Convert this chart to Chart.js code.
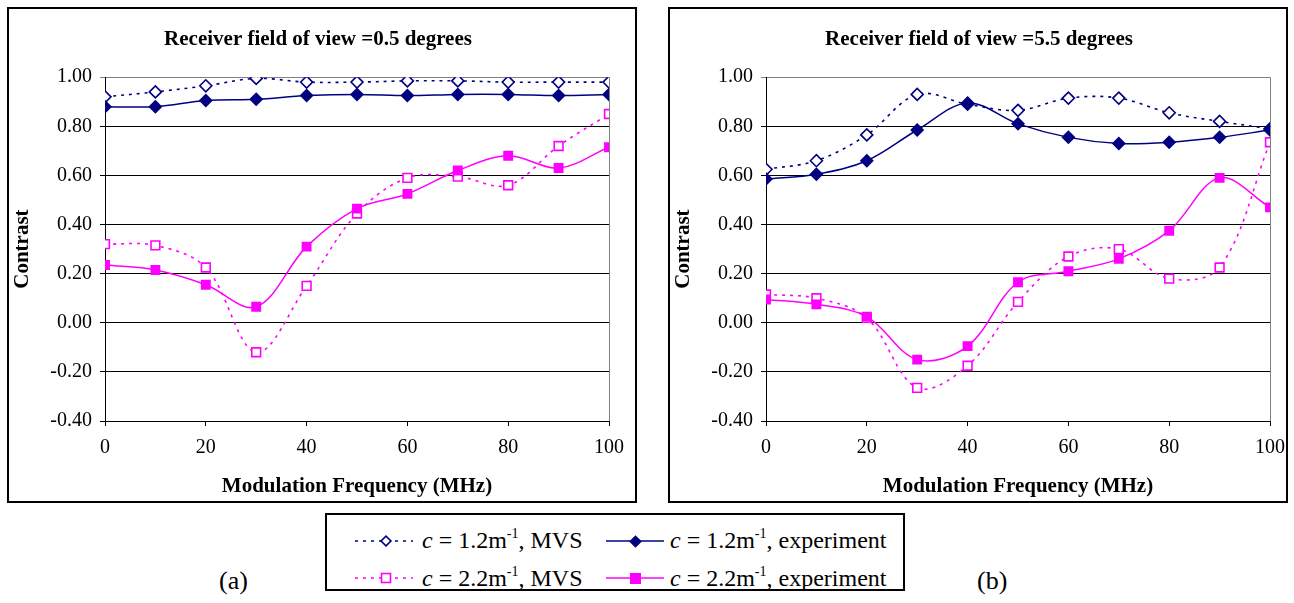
<!DOCTYPE html>
<html>
<head>
<meta charset="utf-8">
<script src="https://cdn.jsdelivr.net/npm/chart.js@4.4.1/dist/chart.umd.min.js"></script>
<style>
  body { margin: 0; background: #fff; width: 1294px; height: 603px; position: relative; overflow: hidden;
         font-family: "Liberation Serif", "Times New Roman", serif; }
  .box { position: absolute; border: 2px solid #000; box-sizing: border-box; }
  canvas.chart { position: absolute; }
  .leg { position: absolute; font-size: 24px; color: #000; white-space: nowrap; line-height: 1; }
  .leg sup { font-size: 14px; vertical-align: 10px; line-height: 0; }
  .cap { position: absolute; font-size: 26px; }
</style>
</head>
<body>
<div class="box" style="left:7px;top:7px;width:630px;height:496px;"></div>
<div class="box" style="left:668px;top:7px;width:620px;height:496px;"></div>
<canvas class="chart" id="chartA" width="630" height="496" style="left:7px;top:7px;width:630px;height:496px;"></canvas>
<canvas class="chart" id="chartB" width="620" height="496" style="left:668px;top:7px;width:620px;height:496px;"></canvas>

<div class="box" style="left:325px;top:513px;width:580px;height:78px;"></div>
<svg style="position:absolute;left:353px;top:531px" width="62" height="20">
  <line x1="2" y1="10" x2="60" y2="10" stroke="#000080" stroke-width="1.5" stroke-dasharray="3,5"/>
  <rect x="29.5" y="6.5" width="7" height="7" fill="#fff" stroke="#000080" stroke-width="1.6" transform="rotate(45 33 10)"/>
</svg>
<div class="leg" style="left:422px;top:528px;"><i>c</i> = 1.2m<sup>-1</sup>, MVS</div>
<svg style="position:absolute;left:604px;top:531px" width="62" height="20">
  <line x1="2" y1="10" x2="60" y2="10" stroke="#000080" stroke-width="1.5"/>
  <rect x="27" y="6" width="9" height="9" fill="#000080" transform="rotate(45 31.5 10.5)"/>
</svg>
<div class="leg" style="left:670px;top:528px;"><i>c</i> = 1.2m<sup>-1</sup>, experiment</div>
<svg style="position:absolute;left:353px;top:568px" width="62" height="20">
  <line x1="2" y1="10" x2="60" y2="10" stroke="#ff00ff" stroke-width="1.5" stroke-dasharray="3,5"/>
  <rect x="28.5" y="5.5" width="9" height="9" fill="#fff" stroke="#ff00ff" stroke-width="1.6"/>
</svg>
<div class="leg" style="left:422px;top:566px;"><i>c</i> = 2.2m<sup>-1</sup>, MVS</div>
<svg style="position:absolute;left:604px;top:568px" width="62" height="20">
  <line x1="2" y1="10" x2="60" y2="10" stroke="#ff00ff" stroke-width="1.5"/>
  <rect x="26" y="5" width="11" height="11" fill="#ff00ff"/>
</svg>
<div class="leg" style="left:670px;top:566px;"><i>c</i> = 2.2m<sup>-1</sup>, experiment</div>

<div class="cap" style="left:219px;top:566px;">(a)</div>
<div class="cap" style="left:977px;top:566px;">(b)</div>

<script>
// Modulation frequency (MHz)
const freqs = [0, 10, 20, 30, 40, 50, 60, 70, 80, 90, 100];

// (a) receiver field of view 0.5 degrees
const mvs12A = [0.92, 0.94, 0.965, 0.995, 0.98, 0.98, 0.985, 0.985, 0.98, 0.98, 0.98];
const exp12A = [0.88, 0.88, 0.905, 0.91, 0.925, 0.93, 0.925, 0.93, 0.93, 0.925, 0.93];
const mvs22A = [0.32, 0.315, 0.225, -0.12, 0.15, 0.445, 0.59, 0.595, 0.56, 0.72, 0.85];
const exp22A = [0.235, 0.215, 0.155, 0.065, 0.31, 0.465, 0.525, 0.62, 0.68, 0.63, 0.715];

// (b) receiver field of view 5.5 degrees
const mvs12B = [0.625, 0.66, 0.765, 0.93, 0.89, 0.865, 0.915, 0.915, 0.855, 0.82, 0.79];
const exp12B = [0.585, 0.605, 0.66, 0.785, 0.895, 0.81, 0.755, 0.73, 0.735, 0.755, 0.785];
const mvs22B = [0.115, 0.10, 0.02, -0.265, -0.175, 0.085, 0.27, 0.30, 0.18, 0.225, 0.735];
const exp22B = [0.095, 0.075, 0.025, -0.15, -0.095, 0.165, 0.21, 0.26, 0.375, 0.59, 0.47];

const titleA = 'Receiver field of view =0.5 degrees';
const titleB = 'Receiver field of view =5.5 degrees';

const NAVY = '#000080';
const PINK = '#ff00ff';
const SERIF = '"Liberation Serif", "Times New Roman", serif';

const toPoints = ys => ys.map((y, i) => ({ x: freqs[i], y: y }));

// gray border on the right of the plot area
const plotFrame = {
    id: 'plotFrame',
    beforeDatasetsDraw(chart) {
        const { ctx, chartArea } = chart;
        ctx.save();
        ctx.strokeStyle = '#808080';
        ctx.lineWidth = 1;
        ctx.beginPath();
        ctx.moveTo(chartArea.right + 0.5, chartArea.top);
        ctx.lineTo(chartArea.right + 0.5, chartArea.bottom);
        ctx.stroke();
        ctx.restore();
    }
};

function makeChart(id, title, mvs12, exp12, mvs22, exp22, rightPad) {
    const ctx = document.getElementById(id);
    return new Chart(ctx, {
        type: 'line',
        data: {
            datasets: [
                {
                    data: toPoints(exp22),
                    borderColor: PINK, backgroundColor: PINK,
                    borderWidth: 1.5, tension: 0.35,
                    pointStyle: 'rect', pointRadius: 7, pointBorderWidth: 0,
                },
                {
                    data: toPoints(exp12),
                    borderColor: NAVY, backgroundColor: NAVY,
                    borderWidth: 1.5, tension: 0.35,
                    pointStyle: 'rectRot', pointRadius: 7, pointBorderWidth: 0,
                },
                {
                    data: toPoints(mvs22),
                    borderColor: PINK, backgroundColor: '#fff',
                    borderWidth: 1.6, borderDash: [3, 5], tension: 0.35,
                    pointStyle: 'rect', pointRadius: 6.2, pointBorderWidth: 1.6,
                },
                {
                    data: toPoints(mvs12),
                    borderColor: NAVY, backgroundColor: '#fff',
                    borderWidth: 1.6, borderDash: [3, 5], tension: 0.35,
                    pointStyle: 'rectRot', pointRadius: 6, pointBorderWidth: 1.6,
                },
            ]
        },
        options: {
            responsive: false,
            animation: false,
            layout: { padding: { left: 20, right: rightPad, top: 0, bottom: 0 } },
            plugins: {
                legend: { display: false },
                tooltip: { enabled: false },
                title: {
                    display: true,
                    text: title,
                    color: '#000',
                    font: { family: SERIF, size: 21, weight: 'bold' },
                    padding: { top: 20, bottom: 25 },
                }
            },
            scales: {
                x: {
                    type: 'linear',
                    min: 0, max: 100,
                    afterFit: s => { s.height = 82; s.paddingLeft = 0; s.paddingRight = 0; },
                    ticks: {
                        stepSize: 20,
                        color: '#000',
                        padding: 10,
                        font: { family: SERIF, size: 20 },
                    },
                    grid: { drawOnChartArea: false, tickLength: 5, color: '#000' },
                    border: { color: '#000', width: 1 },
                    title: {
                        display: true,
                        text: 'Modulation Frequency (MHz)',
                        color: '#000',
                        font: { family: SERIF, size: 21, weight: 'bold' },
                        padding: { top: 4 },
                    }
                },
                y: {
                    min: -0.4, max: 1.0,
                    afterFit: s => { s.width = 78; s.paddingTop = 0; s.paddingBottom = 0; },
                    ticks: {
                        stepSize: 0.2,
                        color: '#000',
                        padding: 8,
                        font: { family: SERIF, size: 20 },
                        callback: v => (Math.abs(v) < 1e-9 ? 0 : v).toFixed(2),
                    },
                    grid: {
                        tickLength: 5,
                        color: c => (c.tick && Math.abs(c.tick.value - 1) < 1e-6) ? '#808080' : '#000',
                    },
                    border: { color: '#000', width: 1 },
                    title: {
                        display: true,
                        text: 'Contrast',
                        color: '#000',
                        font: { family: SERIF, size: 21, weight: 'bold' },
                        padding: { top: -17 },
                    }
                }
            }
        },
        plugins: [plotFrame]
    });
}

makeChart('chartA', titleA, mvs12A, exp12A, mvs22A, exp22A, 28);
makeChart('chartB', titleB, mvs12B, exp12B, mvs22B, exp22B, 18);
</script>
</body>
</html>
